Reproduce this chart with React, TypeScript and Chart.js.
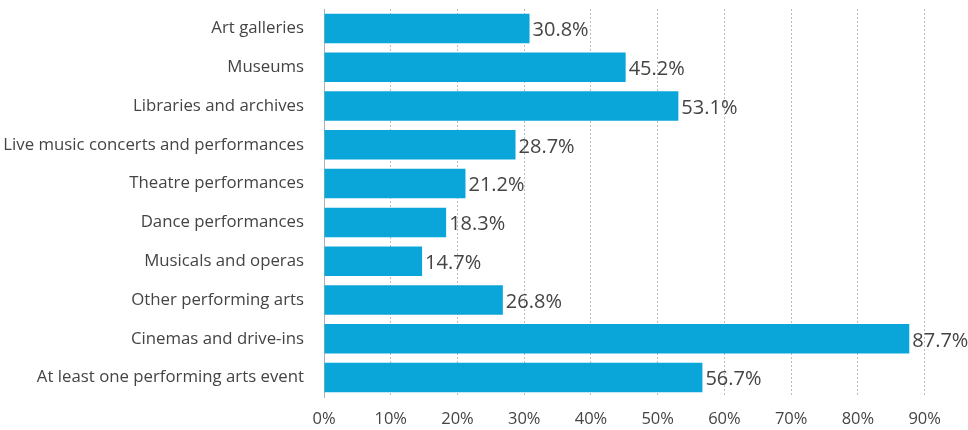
import React, { useEffect, useRef } from "react";
import { Chart, registerables } from "chart.js";

Chart.register(...registerables);

const categories = [
  "Art galleries",
  "Museums",
  "Libraries and archives",
  "Live music concerts and performances",
  "Theatre performances",
  "Dance performances",
  "Musicals and operas",
  "Other performing arts",
  "Cinemas and drive-ins",
  "At least one performing arts event",
];
const values = [30.8, 45.2, 53.1, 28.7, 21.2, 18.3, 14.7, 26.8, 87.7, 56.7];
const tickValues = [0, 10, 20, 30, 40, 50, 60, 70, 80, 90];

const FONT = "'Open Sans', sans-serif";
const TEXT = "#444444";
const BAR = "#0aa5d9";

const valueLabels = {
  id: "valueLabels",
  afterDatasetsDraw(chart: any) {
    const ctx = chart.ctx;
    const meta = chart.getDatasetMeta(0);
    ctx.save();
    ctx.font = "20px " + FONT;
    ctx.fillStyle = TEXT;
    ctx.textAlign = "left";
    ctx.textBaseline = "middle";
    meta.data.forEach((bar: any, i: number) => {
      ctx.fillText(values[i].toFixed(1) + "%", bar.x + 3, bar.y + 2);
    });
    ctx.restore();
  },
};

export default function App() {
  const ref = useRef<HTMLCanvasElement>(null);
  useEffect(() => {
    if (!ref.current) return;
    const chart = new Chart(ref.current, {
      type: "bar",
      data: {
        labels: categories,
        datasets: [
          {
            data: values,
            backgroundColor: BAR,
            borderWidth: 0,
            barPercentage: 0.76,
            categoryPercentage: 1,
          },
        ],
      },
      options: {
        indexAxis: "y",
        animation: false,
        responsive: false,
        maintainAspectRatio: false,
        layout: { padding: { left: 2, right: 10, top: 9, bottom: 1 } },
        plugins: {
          legend: { display: false },
          tooltip: { enabled: false },
        },
        scales: {
          x: {
            min: 0,
            max: 95,
            afterBuildTicks: (axis: any) => {
              axis.ticks = tickValues.map((v) => ({ value: v }));
            },
            afterFit: (s: any) => {
              s.paddingLeft = 0;
              s.paddingRight = 0;
              s.height = 32;
            },
            grid: {
              color: "#bcbcbc",
              drawTicks: false,
              lineWidth: 1,
            } as any,
            border: { display: false, dash: [2, 2] } as any,
            ticks: {
              padding: 12,
              color: TEXT,
              font: { family: FONT, size: 16.5 },
              callback: (v: any) => v + "%",
            },
          },
          y: {
            afterFit: (s: any) => {
              s.paddingTop = 0;
              s.paddingBottom = 0;
              s.width = 322;
            },
            grid: { display: false, drawTicks: false },
            border: { display: true, color: "#b0b0b0", width: 1 },
            ticks: {
              padding: 20,
              color: TEXT,
              font: { family: FONT, size: 16.8 },
            },
          },
        },
      },
      plugins: [valueLabels],
    });
    return () => chart.destroy();
  }, []);
  return (
    <div style={{ position: "fixed", left: 0, top: 0, width: 968, height: 430, background: "#fff" }}>
      <canvas ref={ref} width={968} height={430} />
    </div>
  );
}
